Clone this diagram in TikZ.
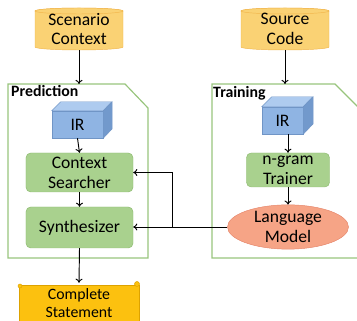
\documentclass[tikz,border=0pt]{standalone}
\usepackage{fontspec}
\setmainfont{Carlito}
\usetikzlibrary{shapes.geometric,arrows.meta}

\definecolor{cylfill}{HTML}{FAD274}
\definecolor{cyledge}{HTML}{F1B54C}
\definecolor{irfront}{HTML}{8FB4E3}
\definecolor{irtop}{HTML}{AECBEF}
\definecolor{irside}{HTML}{7299CC}
\definecolor{iredge}{HTML}{7095C6}
\definecolor{procfill}{HTML}{A9D18E}
\definecolor{procedge}{HTML}{8DBA70}
\definecolor{framecol}{HTML}{98C47C}
\definecolor{lmfill}{HTML}{F6A486}
\definecolor{lmedge}{HTML}{E5856A}
\definecolor{goldfill}{HTML}{FCC10F}
\definecolor{goldedge}{HTML}{DDA200}

\tikzset{
  txt/.style={font=\fontsize{15}{17}\selectfont, align=center, inner sep=0pt},
  store/.style={txt, minimum width=2.64cm, minimum height=1.26cm},
  cube/.style={txt, fill=irfront, draw=iredge, minimum height=0.81cm},
  proc/.style={txt, fill=procfill, draw=procedge, rounded corners=4pt, minimum width=3.21cm},
  model/.style={txt, ellipse, fill=lmfill, draw=lmedge, minimum width=3.63cm, minimum height=1.23cm},
  tag/.style={font=\fontsize{13.5}{16}\selectfont\bfseries, inner sep=0pt},
  frame/.style={draw=framecol, line width=1pt},
  flow/.style={-{To[length=3.5pt,width=6pt]}, line width=0.8pt},
}

\begin{document}
\begin{tikzpicture}[x=0.03cm,y=-0.03cm]
  \useasboundingbox (0,0) rectangle (357,321);

  % data stores
  \filldraw[fill=cylfill, draw=cyledge] (35,11) -- (35,47) arc[start angle=180, end angle=0, x radius=44, y radius=3] -- (123,11) arc[start angle=0, end angle=-180, x radius=44, y radius=3] -- cycle;
  \draw[cyledge, fill=cylfill] (79,11) ellipse [x radius=44, y radius=3];
  \node[store] (scen) at (79,29) {Scenario\\Context};
  \filldraw[fill=cylfill, draw=cyledge] (241,11) -- (241,47) arc[start angle=180, end angle=0, x radius=44, y radius=3] -- (329,11) arc[start angle=0, end angle=-180, x radius=44, y radius=3] -- cycle;
  \draw[cyledge, fill=cylfill] (285,11) ellipse [x radius=44, y radius=3];
  \node[store] (src) at (285,29) {Source\\Code};

  % the two phases
  \draw[frame] (8,258) -- (8,84) -- (125,84) -- (148,108) -- (148,258) -- cycle;
  \draw[frame] (212,258) -- (212,84) -- (335,84) -- (360,109) -- (360,258) -- cycle;
  \node[tag, anchor=base west] (predlbl) at (11,97) {Prediction};
  \node[tag, anchor=base west] (trainlbl) at (213,98) {Training};
  \coordinate (predtop) at (79,84);
  \coordinate (traintop) at (285,84);

  % prediction side
  \node[cube, minimum width=1.53cm] (ir1) at (77.5,124.5) {IR};
  \filldraw[fill=irtop, draw=iredge] (ir1.north west) -- ++(9,-9) -- ++(51,0) -- (ir1.north east) -- cycle;
  \filldraw[fill=irside, draw=iredge] (ir1.north east) -- ++(9,-9) -- ++(0,27) -- (ir1.south east) -- cycle;
  \node[proc, minimum height=1.17cm] (ctx) at (79.5,172.5) {Context\\Searcher};
  \node[proc, minimum height=1.23cm] (syn) at (79.5,227.5) {Synthesizer};

  % training side
  \node[cube, minimum width=1.23cm] (ir2) at (282.5,120.5) {IR};
  \filldraw[fill=irtop, draw=iredge] (ir2.north west) -- ++(10,-10) -- ++(41,0) -- (ir2.north east) -- cycle;
  \filldraw[fill=irside, draw=iredge] (ir2.north east) -- ++(10,-10) -- ++(0,27) -- (ir2.south east) -- cycle;
  \node[proc, minimum width=2.49cm, minimum height=1.02cm] (ngram) at (288,170) {n-gram\\Trainer};
  \node[model] (lm) at (288,227) {Language\\Model};

  % output scroll
  \filldraw[fill=goldfill, draw=goldedge] (19,285) rectangle (139,330);
  \filldraw[fill=goldfill, draw=goldedge] (20,286) circle (2);
  \filldraw[fill=goldfill, draw=goldedge] (137,284) circle (2.5);
  \node[txt, font=\fontsize{13.5}{15.5}\selectfont, minimum width=3.66cm, minimum height=1.2cm] (out) at (79,303) {Complete\\Statement};

  % connectors
  \draw[flow] (scen.south) -- (predtop);
  \draw[flow] (src.south) -- (traintop);
  \draw[flow] (ir1.south) -- (ctx.north);
  \draw[flow] (ctx.south) -- (syn.north);
  \draw[flow] (syn.south) -- (out.north);
  \draw[flow] (ir2.south -| ngram.north) -- (ngram.north);
  \draw[flow] (ngram.south) -- (lm.north);
  \coordinate (jn) at (172,227);
  \draw[line width=0.8pt] (lm.west) -- (jn);
  \draw[flow] (jn) -- (syn.east |- jn);
  \draw[flow] (jn) |- (ctx.east);
\end{tikzpicture}
\end{document}
